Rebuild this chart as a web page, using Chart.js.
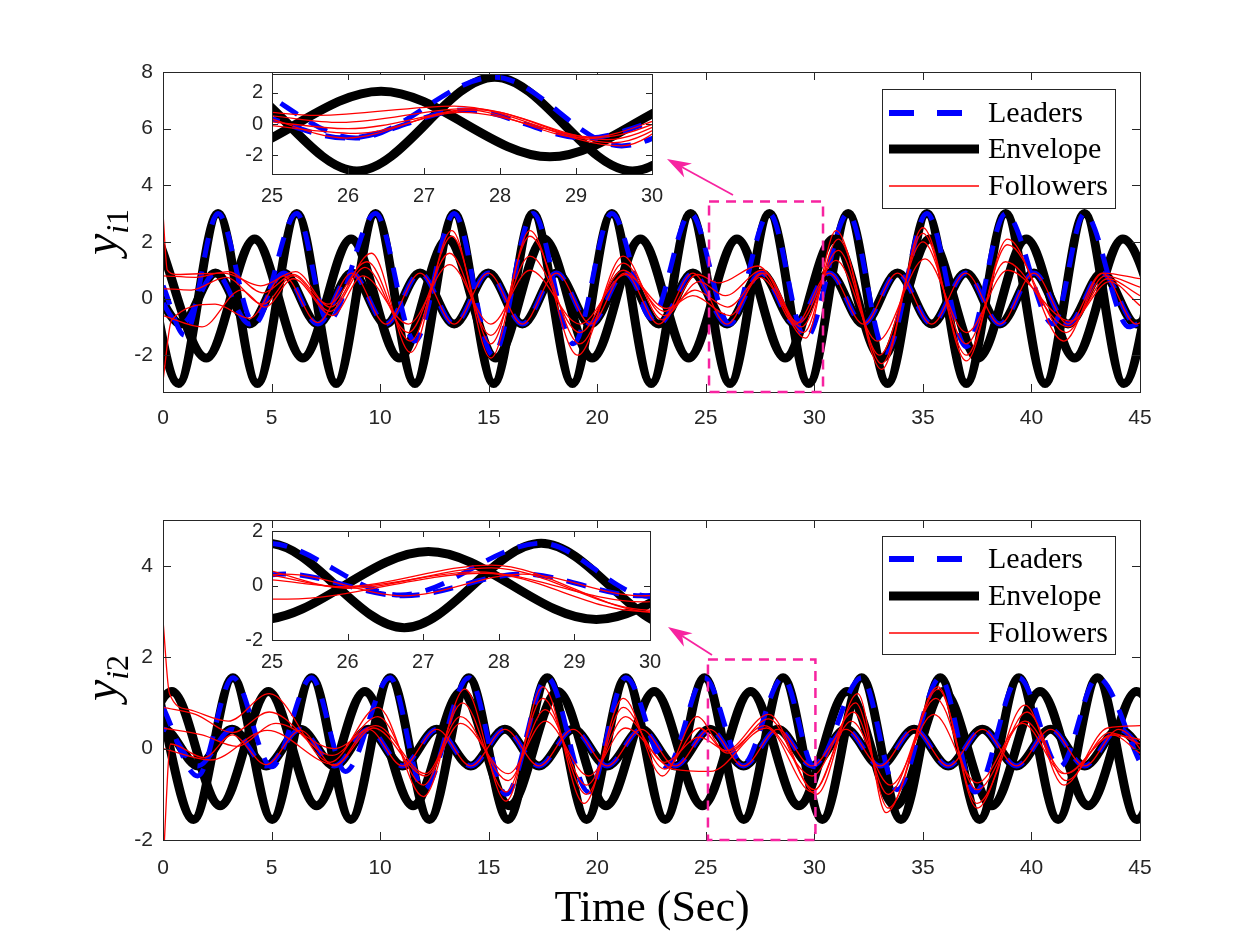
<!DOCTYPE html>
<html>
<head>
<meta charset="utf-8">
<script src="https://cdn.jsdelivr.net/npm/chart.js@4.4.1/dist/chart.umd.min.js"></script>
<style>
body { margin: 0; background: #fff; }
#page { position: relative; width: 1260px; height: 945px; overflow: hidden; background: #fff; }
canvas { position: absolute; }
.lab { position: absolute; font-family: "Liberation Serif", "Times New Roman", serif; color: #000; white-space: nowrap; text-align: center; }
.ylab { width: 120px; height: 60px; line-height: 60px; font-size: 48px; transform: rotate(-90deg); }
.ylab sub { font-size: 32px; vertical-align: -11px; line-height: 0; }
</style>
</head>
<body>
<div id="page">
  <canvas id="top"></canvas>
  <canvas id="bot"></canvas>
  <canvas id="topIn"></canvas>
  <canvas id="botIn"></canvas>
  <div class="lab ylab" style="left:41px; top:202px;"><i>y</i><sub><i>i</i>1</sub></div>
  <div class="lab ylab" style="left:41px; top:648px;"><i>y</i><sub><i>i</i>2</sub></div>
  <div class="lab" style="left:452px; top:880px; width:400px; font-size:44px; line-height:54px;">Time (Sec)</div>
</div>
<script>
// tick labels
var mainXTicks = [0, 5, 10, 15, 20, 25, 30, 35, 40, 45];
var topYTicks = [-2, 0, 2, 4, 6, 8];
var botYTicks = [-2, 0, 2, 4];
var insetXTicks = [25, 26, 27, 28, 29, 30];
var insetYTicks = [-2, 0, 2];
var legendNames = ["Leaders", "Envelope", "Followers"];

// ---------- top panel (y_i1): turning points ----------
var envBigT1 = [-1.094, 0.72, 2.534, 4.348, 6.162, 7.976, 9.79, 11.604, 13.418, 15.232, 17.046, 18.86, 20.674, 22.488, 24.302, 26.116, 27.93, 29.744, 31.558, 33.372, 35.186, 37.0, 38.814, 40.628, 42.442, 44.256, 46.07];
var envBigY1 = [3, -3, 3, -3, 3, -3, 3, -3, 3, -3, 3, -3, 3, -3, 3, -3, 3, -3, 3, -3, 3, -3, 3, -3, 3, -3, 3];
var envMidT1 = [-0.223, 1.998, 4.22, 6.441, 8.663, 10.884, 13.106, 15.327, 17.549, 19.77, 21.992, 24.213, 26.435, 28.656, 30.878, 33.099, 35.321, 37.542, 39.764, 41.985, 44.207, 46.429];
var envMidY1 = [2.1, -2.1, 2.1, -2.1, 2.1, -2.1, 2.1, -2.1, 2.1, -2.1, 2.1, -2.1, 2.1, -2.1, 2.1, -2.1, 2.1, -2.1, 2.1, -2.1, 2.1, -2.1];
var envSmallT1 = [-0.726, 0.845, 2.416, 3.987, 5.557, 7.128, 8.699, 10.27, 11.84, 13.411, 14.982, 16.553, 18.124, 19.695, 21.265, 22.836, 24.407, 25.978, 27.549, 29.119, 30.69, 32.261, 33.832, 35.403, 36.973, 38.544, 40.115, 41.686, 43.257, 44.827, 46.398];
var envSmallY1 = [0.9, -0.9, 0.9, -0.9, 0.9, -0.9, 0.9, -0.9, 0.9, -0.9, 0.9, -0.9, 0.9, -0.9, 0.9, -0.9, 0.9, -0.9, 0.9, -0.9, 0.9, -0.9, 0.9, -0.9, 0.9, -0.9, 0.9, -0.9, 0.9, -0.9, 0.9];
var leadBigT1 = [0, 1.0, 2.534, 4.2, 6.162, 7.6, 9.79, 11.6, 13.418, 15.2, 17.046, 18.9, 20.674, 22.5, 24.302, 26.1, 27.93, 29.6, 31.558, 33.3, 35.186, 37.0, 38.814, 41.0, 42.442, 44.5, 45];
var leadBigY1 = [0.45, -1.3, 3, -0.9, 3, -0.8, 3, -1.5, 3, -2.0, 3, -1.6, 3, -0.7, 3, -0.9, 3, -1.4, 3, -1.9, 3, -1.7, 3, -0.9, 3, -1.0, -0.85];
var f1T1 = [0, 0.2, 0.6, 2.8, 4.5, 6.1, 7.7, 9.6, 11.4, 13.3, 15.1, 16.9, 19.1, 21.2, 23.0, 24.6, 25.6, 27.4, 29.6, 31.0, 33.1, 35.0, 37.0, 38.9, 41.5, 43.3, 45];
var f1Y1 = [3.0, 1.0, 0.85, 0.9, 0.45, 0.95, -0.3, 1.6, -1.9, 2.4, -2.1, 2.4, -2.0, 1.5, -0.75, 0.85, 0.55, 1.15, -1.4, 2.4, -2.5, 2.5, -2.2, 2.1, -1.5, 0.9, 0.7];
var f2T1 = [0, 1.5, 3.0, 4.6, 6.0, 7.6, 9.4, 11.4, 13.3, 15.1, 16.9, 19.2, 21.2, 23.1, 24.7, 25.9, 27.6, 29.5, 31.1, 33.1, 35.0, 37.0, 38.9, 41.6, 43.4, 45];
var f2Y1 = [0.8, 0.75, 0.95, 0.2, 0.85, -0.2, 1.3, -1.5, 2.2, -1.6, 2.2, -1.6, 1.25, -0.6, 0.6, 0.1, 1.0, -1.2, 2.1, -2.3, 2.3, -2.0, 1.9, -1.2, 0.8, 0.4];
var f3T1 = [0, 1.3, 2.9, 4.6, 6.0, 7.7, 9.3, 11.3, 13.2, 15.1, 16.9, 19.2, 21.2, 23.1, 24.5, 26.0, 27.7, 29.4, 31.1, 33.0, 35.0, 37.0, 38.8, 41.7, 43.5, 45];
var f3Y1 = [0.35, 0.3, 0.75, -0.2, 0.8, -0.45, 1.1, -1.2, 1.6, -1.3, 1.5, -1.2, 1.0, -0.45, 0.3, -0.3, 0.9, -1.0, 1.7, -2.0, 2.0, -1.6, 1.3, -1.0, 0.7, 0.1];
var f4T1 = [0, 1.8, 3.6, 4.7, 6.0, 7.8, 9.2, 11.3, 13.2, 15.1, 16.9, 19.2, 21.3, 23.2, 24.4, 26.1, 27.5, 29.3, 31.0, 32.9, 35.1, 37.0, 38.9, 41.8, 43.6, 45];
var f4Y1 = [-0.6, -1.0, 0.3, -0.3, 0.7, -0.6, 0.8, -0.9, 1.2, -0.9, 1.0, -0.9, 0.85, -0.35, 0.1, -0.6, 0.75, -0.85, 1.35, -1.5, 1.4, -1.2, 1.0, -0.8, 0.6, -0.25];
var f5T1 = [0, 0.4, 2.4, 3.987, 5.557, 7.128, 8.699, 10.27, 11.84, 13.411, 14.982, 16.553, 18.124, 19.695, 21.265, 22.836, 24.407, 25.978, 27.549, 29.119, 30.69, 32.261, 33.832, 35.403, 36.973, 38.544, 40.115, 41.686, 43.257, 44.827, 46.398];
var f5Y1 = [-2.9, -0.75, -0.2, -0.7, 0.8, -0.85, 0.9, -0.9, 0.9, -0.9, 0.9, -0.9, 0.9, -0.9, 0.9, -0.9, 0.9, -0.9, 0.9, -0.9, 0.9, -0.9, 0.9, -0.9, 0.9, -0.9, 0.9, -0.9, 0.9, -0.9, 0.9];

// ---------- bottom panel (y_i2) ----------
var envBigT2 = [-0.4, 1.41, 3.22, 5.03, 6.84, 8.65, 10.46, 12.27, 14.08, 15.89, 17.7, 19.51, 21.32, 23.13, 24.94, 26.75, 28.56, 30.37, 32.18, 33.99, 35.8, 37.61, 39.42, 41.23, 43.04, 44.85, 46.66];
var envBigY2 = [1.55, -1.55, 1.55, -1.55, 1.55, -1.55, 1.55, -1.55, 1.55, -1.55, 1.55, -1.55, 1.55, -1.55, 1.55, -1.55, 1.55, -1.55, 1.55, -1.55, 1.55, -1.55, 1.55, -1.55, 1.55, -1.55, 1.55];
var envMidT2 = [-1.812, 0.41, 2.632, 4.853, 7.075, 9.296, 11.518, 13.739, 15.961, 18.182, 20.404, 22.625, 24.847, 27.068, 29.29, 31.511, 33.733, 35.954, 38.176, 40.397, 42.619, 44.84, 47.062];
var envMidY2 = [-1.25, 1.25, -1.25, 1.25, -1.25, 1.25, -1.25, 1.25, -1.25, 1.25, -1.25, 1.25, -1.25, 1.25, -1.25, 1.25, -1.25, 1.25, -1.25, 1.25, -1.25, 1.25, -1.25];
var envSmallT2 = [-1.531, 0.04, 1.611, 3.182, 4.752, 6.323, 7.894, 9.465, 11.035, 12.606, 14.177, 15.748, 17.319, 18.889, 20.46, 22.031, 23.602, 25.173, 26.743, 28.314, 29.885, 31.456, 33.027, 34.597, 36.168, 37.739, 39.31, 40.881, 42.451, 44.022, 45.593];
var envSmallY2 = [-0.38, 0.42, -0.38, 0.42, -0.38, 0.42, -0.38, 0.42, -0.38, 0.42, -0.38, 0.42, -0.38, 0.42, -0.38, 0.42, -0.38, 0.42, -0.38, 0.42, -0.38, 0.42, -0.38, 0.42, -0.38, 0.42, -0.38, 0.42, -0.38, 0.42, -0.38];
var leadBigT2 = [0, 1.6, 3.22, 5.0, 6.84, 8.4, 10.46, 12.0, 14.08, 15.8, 17.7, 19.6, 21.32, 23.2, 24.94, 26.7, 28.56, 30.0, 32.18, 33.8, 35.8, 37.4, 39.42, 41.3, 43.04, 45];
var leadBigY2 = [0.9, -0.6, 1.55, -0.4, 1.55, -0.5, 1.55, -0.9, 1.55, -1.0, 1.55, -0.95, 1.55, -0.4, 1.55, -0.35, 1.55, -0.4, 1.55, -0.9, 1.55, -0.95, 1.55, -0.4, 1.55, -0.3];
var f1T2 = [0, 0.3, 1.2, 3.0, 4.9, 7.7, 9.9, 12.0, 13.9, 15.8, 17.5, 19.4, 21.2, 23.0, 24.6, 25.9, 27.9, 30.1, 32.0, 33.3, 35.7, 37.5, 39.7, 41.5, 43.5, 45];
var f1Y2 = [2.8, 1.2, 0.85, 0.6, 1.2, -0.3, 0.9, -1.05, 1.3, -1.15, 1.35, -1.2, 1.1, -0.6, 0.7, -0.05, 0.75, -1.0, 1.2, -1.4, 1.35, -1.3, 0.95, -0.8, 0.45, 0.5];
var f2T2 = [0, 1.5, 3.2, 4.9, 7.8, 9.9, 12.0, 13.8, 15.8, 17.5, 19.5, 21.2, 23.1, 24.7, 26.0, 27.9, 30.0, 31.9, 33.4, 35.7, 37.5, 39.8, 41.6, 43.6, 45];
var f2Y2 = [0.9, 0.75, 0.35, 0.8, -0.15, 0.7, -0.8, 1.0, -0.95, 1.1, -1.0, 0.9, -0.45, 0.45, -0.1, 0.65, -0.9, 1.0, -1.3, 1.3, -1.2, 0.8, -0.7, 0.35, 0.1];
var f3T2 = [0, 1.8, 3.4, 5.2, 7.9, 9.8, 12.1, 13.7, 15.9, 17.6, 19.5, 21.3, 23.1, 24.7, 26.0, 27.7, 29.9, 31.8, 33.4, 35.6, 37.5, 39.7, 41.6, 43.7, 45];
var f3Y2 = [0.45, 0.3, 0.05, 0.55, 0.0, 0.5, -0.55, 0.7, -0.7, 0.85, -0.8, 0.7, -0.3, 0.25, -0.05, 0.5, -0.6, 0.8, -1.0, 1.1, -0.9, 0.6, -0.55, 0.3, -0.1];
var f4T2 = [0, 2.2, 4.8, 7.9, 9.7, 12.1, 13.7, 15.9, 17.6, 19.6, 21.3, 23.5, 25.2, 27.8, 29.9, 31.7, 33.5, 35.5, 37.5, 39.6, 41.5, 43.8, 45];
var f4Y2 = [0.0, -0.25, 0.4, -0.35, 0.45, -0.6, 0.55, -0.55, 0.6, -0.6, 0.45, -0.45, -0.5, 0.45, -0.95, 0.6, -0.8, 0.75, -0.75, 0.55, -0.55, 0.3, 0.2];
var f5T2 = [0, 0.35, 1.9, 3.182, 4.752, 6.323, 7.894, 9.465, 11.035, 12.606, 14.177, 15.748, 17.319, 18.889, 20.46, 22.031, 23.602, 25.173, 26.743, 28.314, 29.885, 31.456, 33.027, 34.597, 36.168, 37.739, 39.31, 40.881, 42.451, 44.022, 45.593];
var f5Y2 = [-2.6, 0.1, -0.2, 0.3, -0.35, 0.4, -0.38, 0.42, -0.38, 0.42, -0.38, 0.42, -0.38, 0.42, -0.38, 0.42, -0.38, 0.42, -0.38, 0.42, -0.38, 0.42, -0.38, 0.42, -0.38, 0.42, -0.38, 0.42, -0.38, 0.42, -0.38];

var SANS = '"Liberation Sans", Arial, sans-serif';
var SERIF = '"Liberation Serif", "Times New Roman", serif';
var PINK = "rgb(247, 35, 160)";
var AXC = "#262626";
var PAD = 40, YW = 60, XH = 40;

function curve(xs, ys, color, width, dash) {
  return {
    data: xs.map(function (x, i) { return { x: x, y: ys[i] }; }),
    borderColor: color,
    borderWidth: width,
    borderDash: dash || [],
    borderCapStyle: "butt",
    borderJoinStyle: "round",
    pointRadius: 0,
    fill: false,
    cubicInterpolationMode: "monotone",
    clip: 0
  };
}
function red(xs, ys) { return curve(xs, ys, "#ff0000", 1.3); }
function blue(xs, ys) { return curve(xs, ys, "#0000ff", 5, [20, 14]); }
function black(xs, ys) { return curve(xs, ys, "#000000", 9); }

// box, inner ticks on all four sides, optional white fill (insets)
var framePlugin = {
  id: "frame",
  beforeDatasetsDraw: function (chart, args, o) {
    if (!o.white) return;
    var a = chart.chartArea, ctx = chart.ctx;
    ctx.save();
    ctx.fillStyle = "#fff";
    ctx.fillRect(a.left, a.top, a.right - a.left, a.bottom - a.top);
    ctx.restore();
  },
  afterDraw: function (chart, args, o) {
    var ctx = chart.ctx, a = chart.chartArea, sx = chart.scales.x, sy = chart.scales.y;
    ctx.save();
    ctx.strokeStyle = AXC;
    ctx.lineWidth = 1;
    ctx.beginPath();
    sx.ticks.forEach(function (t) {
      var p = Math.round(sx.getPixelForValue(t.value)) + 0.5;
      ctx.moveTo(p, a.bottom); ctx.lineTo(p, a.bottom - o.len);
      ctx.moveTo(p, a.top); ctx.lineTo(p, a.top + o.len);
    });
    sy.ticks.forEach(function (t) {
      var p = Math.round(sy.getPixelForValue(t.value)) + 0.5;
      ctx.moveTo(a.left, p); ctx.lineTo(a.left + o.len, p);
      ctx.moveTo(a.right, p); ctx.lineTo(a.right - o.len, p);
    });
    ctx.stroke();
    ctx.strokeRect(Math.round(a.left) + 0.5, Math.round(a.top) + 0.5, Math.round(a.right - a.left), Math.round(a.bottom - a.top));
    ctx.restore();
  }
};

// zoom box, arrow and legend of a main panel
var notesPlugin = {
  id: "notes",
  afterDraw: function (chart, args, o) {
    if (!o.zoom) return;
    var ctx = chart.ctx, sx = chart.scales.x, sy = chart.scales.y;
    ctx.save();
    ctx.strokeStyle = PINK;
    ctx.lineWidth = 2.5;
    ctx.setLineDash([10, 7]);
    var x0 = sx.getPixelForValue(o.zoom[0]), x1 = sx.getPixelForValue(o.zoom[1]);
    var y0 = sy.getPixelForValue(o.zoom[2]), y1 = sy.getPixelForValue(o.zoom[3]);
    ctx.strokeRect(x0, y0, x1 - x0, y1 - y0);
    ctx.setLineDash([]);

    ctx.translate(-o.ox, -o.oy);
    // arrow
    var ax = o.arrow[0], ay = o.arrow[1], bx = o.arrow[2], by = o.arrow[3];
    var ang = Math.atan2(by - ay, bx - ax), c = Math.cos(ang), s = Math.sin(ang);
    var hl = 24, hw = 8;
    ctx.lineWidth = 1.8;
    ctx.fillStyle = PINK;
    ctx.beginPath();
    ctx.moveTo(ax, ay);
    ctx.lineTo(bx - hl * 0.7 * c, by - hl * 0.7 * s);
    ctx.stroke();
    ctx.beginPath();
    ctx.moveTo(bx, by);
    ctx.lineTo(bx - hl * c + hw * s, by - hl * s - hw * c);
    ctx.lineTo(bx - hl * 0.7 * c, by - hl * 0.7 * s);
    ctx.lineTo(bx - hl * c - hw * s, by - hl * s + hw * c);
    ctx.closePath();
    ctx.fill();

    // legend
    var L = o.legend;
    ctx.fillStyle = "#fff";
    ctx.fillRect(L.x, L.y, L.w, L.h);
    ctx.strokeStyle = AXC;
    ctx.lineWidth = 1;
    ctx.strokeRect(L.x + 0.5, L.y + 0.5, L.w, L.h);
    var styles = [
      { color: "#0000ff", width: 6, dash: [25, 23] },
      { color: "#000000", width: 9, dash: [] },
      { color: "#ff0000", width: 1.3, dash: [] }
    ];
    ctx.font = "30px " + SERIF;
    ctx.textBaseline = "middle";
    ctx.textAlign = "left";
    legendNames.forEach(function (name, i) {
      var st = styles[i], yy = L.rows[i];
      ctx.strokeStyle = st.color;
      ctx.lineWidth = st.width;
      ctx.setLineDash(st.dash);
      ctx.beginPath();
      ctx.moveTo(L.x + 7, yy);
      ctx.lineTo(L.x + 97, yy);
      ctx.stroke();
      ctx.setLineDash([]);
      ctx.fillStyle = "#000";
      ctx.fillText(name, L.x + 106, yy + 1);
    });
    ctx.restore();
  }
};

function build(id, box, xr, yr, xt, yt, sets, opt) {
  var cv = document.getElementById(id);
  var ox = box.l - PAD - YW, oy = box.t - PAD;
  var w = box.r - box.l + 2 * PAD + YW, h = box.b - box.t + 2 * PAD + XH;
  cv.width = w;
  cv.height = h;
  cv.style.left = ox + "px";
  cv.style.top = oy + "px";
  var notes = opt.notes || {};
  notes.ox = ox; notes.oy = oy;
  var tf = { family: SANS, size: opt.fs };
  var pad = { left: PAD, right: PAD, top: PAD, bottom: PAD };
  var chart = new Chart(cv.getContext("2d"), {
    type: "line",
    data: { datasets: sets },
    options: {
      responsive: false,
      animation: false,
      events: [],
      layout: { padding: pad },
      plugins: {
        legend: { display: false },
        tooltip: { enabled: false },
        frame: { white: opt.white, len: opt.tick },
        notes: notes
      },
      scales: {
        x: {
          type: "linear", min: xr[0], max: xr[1],
          afterBuildTicks: function (s) { s.ticks = xt.map(function (v) { return { value: v }; }); },
          afterFit: function (s) { s.height = XH; },
          grid: { display: false, drawTicks: false },
          border: { display: false },
          ticks: { color: AXC, font: tf, padding: opt.xpad, maxRotation: 0, autoSkip: false }
        },
        y: {
          type: "linear", min: yr[0], max: yr[1],
          afterBuildTicks: function (s) { s.ticks = yt.map(function (v) { return { value: v }; }); },
          afterFit: function (s) { s.width = YW; },
          grid: { display: false, drawTicks: false },
          border: { display: false },
          ticks: { color: AXC, font: tf, padding: opt.ypad, autoSkip: false }
        }
      }
    },
    plugins: [framePlugin, notesPlugin]
  });
  // nudge the layout padding so the plot box lands on the wanted pixels
  for (var k = 0; k < 3; k++) {
    var a = chart.chartArea;
    var dl = (PAD + YW) - a.left, dt = PAD - a.top;
    var dr = a.right - (w - PAD), db = a.bottom - (h - PAD - XH);
    if (Math.abs(dl) < 0.5 && Math.abs(dt) < 0.5 && Math.abs(dr) < 0.5 && Math.abs(db) < 0.5) break;
    pad.left += dl; pad.top += dt; pad.right += dr; pad.bottom += db;
    chart.options.layout.padding = { left: pad.left, right: pad.right, top: pad.top, bottom: pad.bottom };
    chart.update();
  }
  return chart;
}

function topSets(withSmallEnv) {
  var s = [
    red(f1T1, f1Y1), red(f2T1, f2Y1), red(f3T1, f3Y1), red(f4T1, f4Y1), red(f5T1, f5Y1),
    blue(leadBigT1, leadBigY1), blue(envSmallT1, envSmallY1),
    black(envBigT1, envBigY1), black(envMidT1, envMidY1)
  ];
  if (withSmallEnv) s.push(black(envSmallT1, envSmallY1));
  return s;
}
function botSets(withSmallEnv) {
  var s = [
    red(f1T2, f1Y2), red(f2T2, f2Y2), red(f3T2, f3Y2), red(f4T2, f4Y2), red(f5T2, f5Y2),
    blue(leadBigT2, leadBigY2), blue(envSmallT2, envSmallY2),
    black(envBigT2, envBigY2), black(envMidT2, envMidY2)
  ];
  if (withSmallEnv) s.push(black(envSmallT2, envSmallY2));
  return s;
}

build("top", { l: 163, t: 72, r: 1140, b: 392 }, [0, 45], [-3.3, 8], mainXTicks, topYTicks, topSets(true), {
  fs: 21, xpad: 14, ypad: 10, tick: 8, white: false,
  notes: {
    zoom: [25.15, 30.4, 3.43, -3.3],
    arrow: [733, 195, 667, 159],
    legend: { x: 882, y: 89, w: 233, h: 119, rows: [113, 149, 186] }
  }
});
build("bot", { l: 163, t: 520, r: 1140, b: 840 }, [0, 45], [-2, 5], mainXTicks, botYTicks, botSets(true), {
  fs: 21, xpad: 16, ypad: 10, tick: 8, white: false,
  notes: {
    zoom: [25.1, 30.05, 1.95, -2],
    arrow: [712, 655, 668, 627],
    legend: { x: 882, y: 536, w: 233, h: 118, rows: [559, 596, 633] }
  }
});
build("topIn", { l: 272, t: 74, r: 652, b: 174 }, [25, 30], [-3.2, 3.2], insetXTicks, insetYTicks, topSets(false), {
  fs: 20, xpad: 10, ypad: 9, tick: 6, white: true
});
build("botIn", { l: 272, t: 531, r: 650, b: 640 }, [25, 30], [-2, 2], insetXTicks, insetYTicks, botSets(false), {
  fs: 20, xpad: 10, ypad: 9, tick: 6, white: true
});
</script>
</body>
</html>
